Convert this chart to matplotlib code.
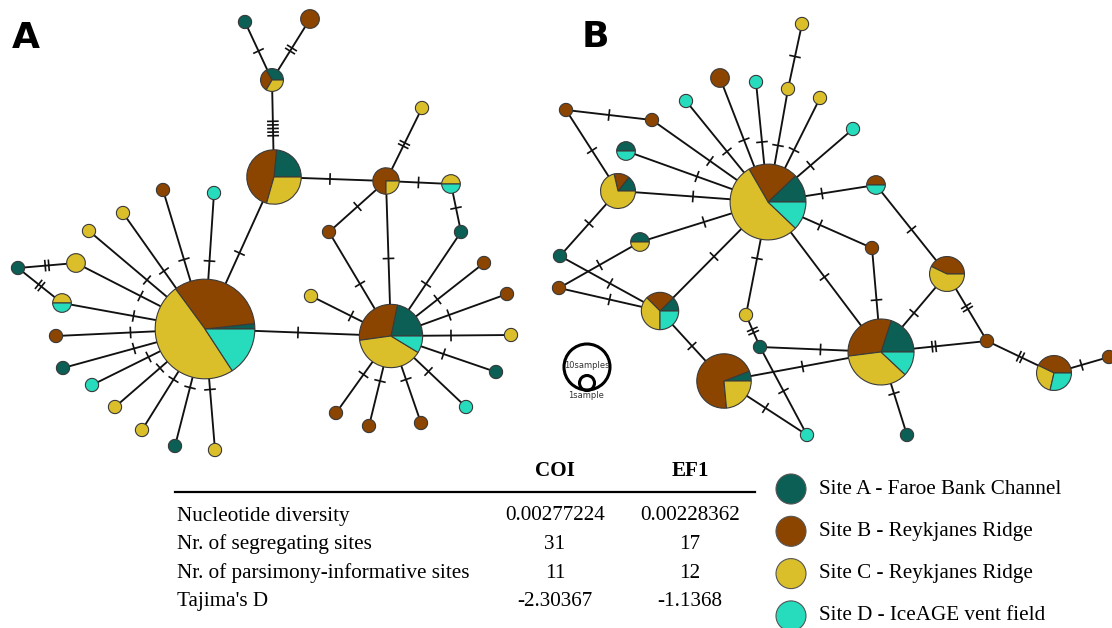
import numpy as np
import matplotlib
matplotlib.use("Agg")
import matplotlib.pyplot as plt
from matplotlib.patches import Wedge, Circle

site_colors = ["#0b5f55", "#8b4500", "#dbbf2a", "#26dcbd"]
site_labels = ["Site A - Faroe Bank Channel", "Site B - Reykjanes Ridge",
               "Site C - Reykjanes Ridge", "Site D - IceAGE vent field"]

# network A (COI): samples per site [A, B, C, D] for each haplotype
a_counts = [[1, 19, 28, 9], [4, 8, 5, 0], [1, 1, 1, 0], [1, 0, 0, 0], [0, 2, 0, 0],
            [0, 3, 1, 0], [0, 0, 1, 0], [0, 0, 1, 1], [0, 1, 0, 0], [1, 0, 0, 0],
            [5, 7, 9, 2], [0, 0, 1, 0], [0, 1, 0, 0], [0, 1, 0, 0], [0, 0, 1, 0],
            [1, 0, 0, 0], [0, 0, 0, 1], [0, 1, 0, 0], [0, 1, 0, 0], [0, 1, 0, 0],
            [0, 1, 0, 0], [0, 0, 0, 1], [0, 0, 1, 0], [0, 0, 1, 0], [0, 0, 2, 0],
            [1, 0, 0, 0], [0, 0, 1, 1], [0, 1, 0, 0], [1, 0, 0, 0], [0, 0, 0, 1],
            [0, 0, 1, 0], [0, 0, 1, 0], [1, 0, 0, 0], [0, 0, 1, 0]]
# layout of network A (pixel space)
a_x = [205, 274, 272, 245, 310, 386, 422, 451, 329, 461, 391, 311, 484, 507, 511, 496, 466,
       421, 369, 336, 163, 214, 123, 89, 76, 18, 62, 56, 63, 92, 115, 142, 175, 215]
a_y = [329, 177, 80, 22, 19, 181, 108, 184, 232, 232, 336, 296, 263, 294, 335, 372, 407,
       423, 426, 413, 190, 193, 213, 231, 263, 268, 303, 336, 368, 385, 407, 430, 446, 450]
# (haplotype, haplotype, mutation steps)
a_edges = [(2, 3, 1), (2, 4, 2), (2, 1, 5), (1, 0, 1), (1, 5, 1), (5, 6, 2), (5, 7, 1),
           (5, 8, 1), (7, 9, 1), (5, 10, 1), (8, 10, 1), (9, 10, 1), (10, 11, 1), (10, 12, 1),
           (10, 13, 1), (10, 14, 1), (10, 15, 1), (10, 16, 1), (10, 17, 1), (10, 18, 1),
           (10, 19, 1), (10, 0, 1), (0, 20, 1), (0, 21, 1), (0, 22, 1), (0, 23, 1), (0, 24, 1),
           (24, 25, 2), (26, 25, 2), (0, 26, 1), (0, 27, 1), (0, 28, 1), (0, 29, 1), (0, 30, 1),
           (0, 31, 1), (0, 32, 1), (0, 33, 1)]

# network B (EF1)
b_counts = [[4, 7, 18, 4], [0, 0, 1, 0], [0, 0, 1, 0], [0, 2, 0, 0], [0, 0, 0, 1],
            [0, 0, 0, 1], [0, 0, 1, 0], [0, 1, 0, 0], [0, 1, 0, 0], [1, 0, 0, 1],
            [1, 1, 5, 0], [0, 0, 0, 1], [0, 1, 0, 1], [0, 1, 0, 0], [0, 0, 1, 0],
            [5, 8, 9, 3], [0, 3, 4, 0], [0, 1, 0, 0], [0, 3, 2, 2], [0, 1, 0, 0],
            [1, 0, 0, 0], [1, 0, 0, 0], [0, 1, 0, 0], [1, 0, 1, 0], [1, 2, 3, 2],
            [1, 12, 4, 0], [1, 0, 0, 0], [0, 0, 0, 1]]
b_x = [768, 802, 788, 720, 756, 686, 820, 566, 652, 626, 618, 853, 876, 872, 746, 881, 947,
       987, 1054, 1109, 907, 560, 559, 640, 660, 724, 760, 807]
b_y = [202, 24, 89, 78, 82, 101, 98, 110, 120, 151, 191, 129, 185, 248, 315, 352, 274,
       341, 373, 357, 435, 256, 288, 242, 311, 381, 347, 435]
b_edges = [(1, 2, 1), (2, 0, 1), (3, 0, 1), (4, 0, 1), (5, 0, 1), (6, 0, 1), (7, 8, 1),
           (8, 0, 1), (7, 10, 1), (9, 0, 1), (10, 0, 1), (11, 0, 1), (12, 0, 1), (13, 0, 1),
           (14, 0, 1), (0, 15, 1), (12, 16, 1), (13, 15, 1), (15, 16, 1), (16, 17, 2),
           (15, 17, 2), (17, 18, 2), (18, 19, 1), (15, 20, 1), (21, 10, 1), (21, 24, 1),
           (22, 23, 1), (22, 24, 1), (23, 0, 1), (24, 0, 1), (24, 25, 1), (25, 15, 1),
           (14, 26, 2), (26, 15, 1), (26, 27, 1), (25, 27, 1)]

# summary statistics table
stat_names = ["Nucleotide diversity", "Nr. of segregating sites",
              "Nr. of parsimony-informative sites", "Tajima's D"]
coi_values = ["0.00277224", "31", "11", "-2.30367"]
ef1_values = ["0.00228362", "17", "12", "-1.1368"]

R1 = 6.6  # radius of a one-sample haplotype


def draw_network(ax, xs, ys, counts, edges):
    for i, j, m in edges:
        x0, y0, x1, y1 = xs[i], ys[i], xs[j], ys[j]
        ax.plot([x0, x1], [y0, y1], color="#111111", lw=1.35, zorder=1)
        L = np.hypot(x1 - x0, y1 - y0)
        ux, uy = (x1 - x0) / L, (y1 - y0) / L
        mx, my = (x0 + x1) / 2, (y0 + y1) / 2
        for k in range(m):
            off = (k - (m - 1) / 2) * 3.6
            cx, cy = mx + ux * off, my + uy * off
            ax.plot([cx + uy * 5, cx - uy * 5], [cy - ux * 5, cy + ux * 5],
                    color="#111111", lw=1.2, zorder=1)
    for x, y, c in zip(xs, ys, counts):
        tot = sum(c)
        r = R1 * np.sqrt(tot)
        a0 = 0.0
        for k, n in enumerate(c):
            if n == 0:
                continue
            a1 = a0 + 360.0 * n / tot
            # y axis runs downwards, so angles are mirrored
            ax.add_patch(Wedge((x, y), r, -a1, -a0, facecolor=site_colors[k],
                               edgecolor="#3a3a3a", lw=0.8, zorder=3))
            a0 = a1


fig = plt.figure(figsize=(11.12, 6.28), dpi=100)
ax = fig.add_axes([0, 0, 1, 1])
ax.set_xlim(0, 1112)
ax.set_ylim(628, 0)
ax.set_aspect("equal")
ax.axis("off")

draw_network(ax, a_x, a_y, a_counts, a_edges)
draw_network(ax, b_x, b_y, b_counts, b_edges)

ax.text(12, 48, "A", fontsize=26, fontweight="bold", family="DejaVu Sans", va="baseline")
ax.text(582, 47, "B", fontsize=26, fontweight="bold", family="DejaVu Sans", va="baseline")

# size scale
ax.add_patch(Circle((587, 367), 23, facecolor="none", edgecolor="black", lw=2.2, zorder=3))
ax.add_patch(Circle((587, 383), 7.5, facecolor="none", edgecolor="black", lw=2.2, zorder=3))
ax.text(587, 366, "10samples", fontsize=6, ha="center", va="center", color="#333333")
ax.text(586, 396, "1sample", fontsize=6, ha="center", va="center", color="#333333")

# table
serif = "Liberation Serif"
fs = 15.2
ax.plot([175, 755], [492, 492], color="black", lw=1.6)
ax.text(555, 471, "COI", fontsize=fs, fontweight="bold", family=serif, ha="center", va="center")
ax.text(690, 471, "EF1", fontsize=fs, fontweight="bold", family=serif, ha="center", va="center")
for k, (name, v1, v2) in enumerate(zip(stat_names, coi_values, ef1_values)):
    y = 516 + k * 28.5
    ax.text(177, y, name, fontsize=fs, family=serif, ha="left", va="center")
    ax.text(555, y, v1, fontsize=fs, family=serif, ha="center", va="center")
    ax.text(690, y, v2, fontsize=fs, family=serif, ha="center", va="center")

# legend
for k, (col, lab) in enumerate(zip(site_colors, site_labels)):
    y = 489 + k * 42.3
    ax.add_patch(Circle((791, y), 15, facecolor=col, edgecolor="#555555", lw=0.8))
    ax.text(819, y, lab, fontsize=fs, family=serif, ha="left", va="center")

fig.savefig("out.png", dpi=100)
